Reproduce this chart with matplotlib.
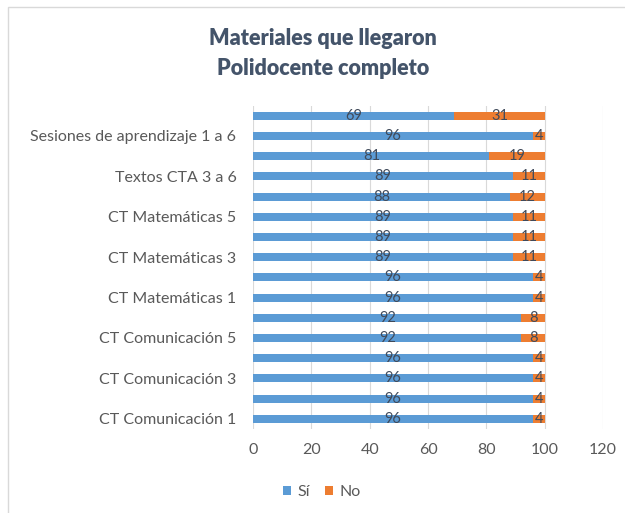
import matplotlib.pyplot as plt
from matplotlib.patches import Rectangle

plt.rcParams['font.family'] = ['Lato', 'DejaVu Sans']

# categorias de abajo hacia arriba
materiales = ['CT Comunicación 1', 'CT Comunicación 2', 'CT Comunicación 3',
              'CT Comunicación 4', 'CT Comunicación 5', 'CT Comunicación 6',
              'CT Matemáticas 1', 'CT Matemáticas 2', 'CT Matemáticas 3',
              'CT Matemáticas 4', 'CT Matemáticas 5', 'CT Matemáticas 6',
              'Textos CTA 3 a 6', 'Textos CTA 1 y 2',
              'Sesiones de aprendizaje 1 a 6', 'Otros materiales']
si = [96, 96, 96, 96, 92, 92, 96, 96, 89, 89, 89, 88, 89, 81, 96, 69]
no = [4, 4, 4, 4, 8, 8, 4, 4, 11, 11, 11, 12, 11, 19, 4, 31]

azul = '#5B9BD5'
naranja = '#ED7D31'
gris = '#595959'

fig = plt.figure(figsize=(6.25, 5.13), dpi=100)
ax = fig.add_axes([0.405, 0.164, 0.56, 0.630])

pos = list(range(len(materiales)))
b1 = ax.barh(pos, si, height=0.4, color=azul, label='Sí', zorder=2)
b2 = ax.barh(pos, no, left=si, height=0.4, color=naranja, label='No', zorder=2)
ax.bar_label(b1, label_type='center', color='#404A5A', fontsize=10.5)
ax.bar_label(b2, label_type='center', color='#404A5A', fontsize=10.5)

ax.set_xlim(0, 120)
ax.set_ylim(-0.5, len(materiales) - 0.5)
ax.set_xticks(range(0, 121, 20))
ax.set_yticks(pos)
ax.set_yticklabels(materiales)
# Excel muestra solo una etiqueta de cada dos
for i, t in enumerate(ax.get_yticklabels()):
    if i % 2 == 1:
        t.set_visible(False)
ax.tick_params(axis='both', length=0, colors=gris, labelsize=11.5)
ax.tick_params(axis='x', pad=10)
ax.tick_params(axis='y', pad=12)
ax.grid(axis='x', color='#D9D9D9', linewidth=0.8, zorder=0)
for s in ax.spines.values():
    s.set_visible(False)

fig.text(0.517, 0.925, 'Materiales que llegaron', ha='center', va='center',
         fontsize=15.5, fontweight='heavy', color='#44546A')
fig.text(0.517, 0.867, 'Polidocente completo', ha='center', va='center',
         fontsize=15.5, fontweight='heavy', color='#44546A')

fig.legend(handles=[b1, b2], loc='center', bbox_to_anchor=(0.515, 0.041),
           ncol=2, frameon=False, fontsize=11.5, labelcolor=gris,
           handlelength=0.5, handleheight=0.5, handletextpad=0.4, columnspacing=1.0)

fig.patches.append(Rectangle((0.013, -0.1), 1.2, 1.086, transform=fig.transFigure,
                             fill=False, edgecolor='#D9D9D9', linewidth=1))

fig.savefig('out.png', dpi=100)
